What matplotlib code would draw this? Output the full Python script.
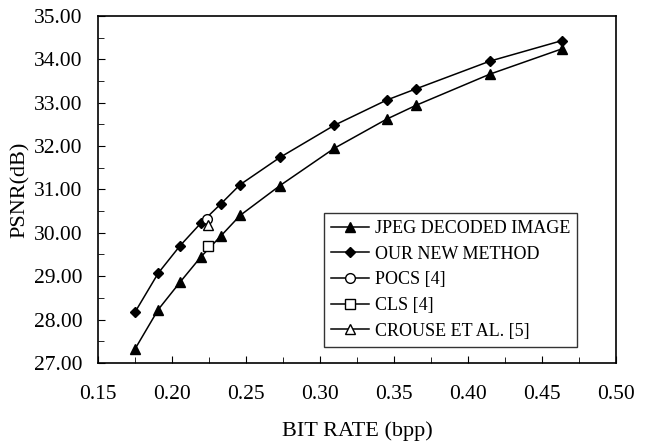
import numpy as np
import matplotlib
matplotlib.use("Agg")
import matplotlib.pyplot as plt
from matplotlib.ticker import MultipleLocator, FormatStrFormatter

# bit rate (bpp) shared by both curves
bitrate = [0.175, 0.1907, 0.2054, 0.2194, 0.2331, 0.246,
           0.273, 0.3097, 0.345, 0.3649, 0.4149, 0.4633]
psnr_jpeg = [27.32, 28.23, 28.86, 29.44, 29.93, 30.40,
             31.09, 31.95, 32.62, 32.94, 33.66, 34.24]
psnr_new = [28.17, 29.07, 29.70, 30.22, 30.67, 31.11,
            31.74, 32.48, 33.06, 33.32, 33.96, 34.43]

# single-point comparisons
pocs_x, pocs_y = [0.2238], [30.32]
cls_x, cls_y = [0.224], [29.69]
crouse_x, crouse_y = [0.2245], [30.17]

plt.rcParams['font.family'] = ['Liberation Serif', 'DejaVu Serif']

fig = plt.figure(figsize=(6.47, 4.42), dpi=100)
ax = fig.add_axes([0.1515, 0.179, 0.8005, 0.7848])

ax.plot(bitrate, psnr_jpeg, 'k-', marker='^', ms=7.5, lw=1.1,
        label='JPEG DECODED IMAGE')
ax.plot(bitrate, psnr_new, 'k-', marker='D', ms=5.5, lw=1.1,
        label='OUR NEW METHOD')
ax.plot(pocs_x, pocs_y, 'k-', marker='o', ms=7, mfc='white', lw=1.1,
        label='POCS [4]')
ax.plot(cls_x, cls_y, 'k-', marker='s', ms=7, mfc='white', lw=1.1,
        label='CLS [4]')
ax.plot(crouse_x, crouse_y, 'k-', marker='^', ms=7, mfc='white', lw=1.1,
        label='CROUSE ET AL. [5]')

ax.set_xlim(0.15, 0.50)
ax.set_ylim(27.0, 35.0)
ax.xaxis.set_major_locator(MultipleLocator(0.05))
ax.xaxis.set_minor_locator(MultipleLocator(0.025))
ax.yaxis.set_major_locator(MultipleLocator(1.0))
ax.yaxis.set_minor_locator(MultipleLocator(0.5))
ax.xaxis.set_major_formatter(FormatStrFormatter('%.2f'))
ax.yaxis.set_major_formatter(FormatStrFormatter('%.2f'))
ax.tick_params(which='both', direction='in', labelsize=15.5)
ax.tick_params(axis='x', which='major', pad=16)
ax.tick_params(axis='y', which='major', pad=11)
ax.tick_params(which='major', length=5)
ax.tick_params(which='minor', length=4)
for s in ax.spines.values():
    s.set_linewidth(1.2)

ax.set_xlabel('BIT RATE (bpp)', fontsize=16, labelpad=12)
ax.set_ylabel('PSNR(dB)', fontsize=16, labelpad=3)

leg = ax.legend(loc='lower right', bbox_to_anchor=(0.925, 0.046),
                borderaxespad=0, fontsize=13, frameon=True, fancybox=False,
                handlelength=2.1, handletextpad=0.3, labelspacing=0.48,
                borderpad=0.4, edgecolor='black')
leg.get_frame().set_linewidth(1.0)

fig.savefig('out.png', dpi=100)
